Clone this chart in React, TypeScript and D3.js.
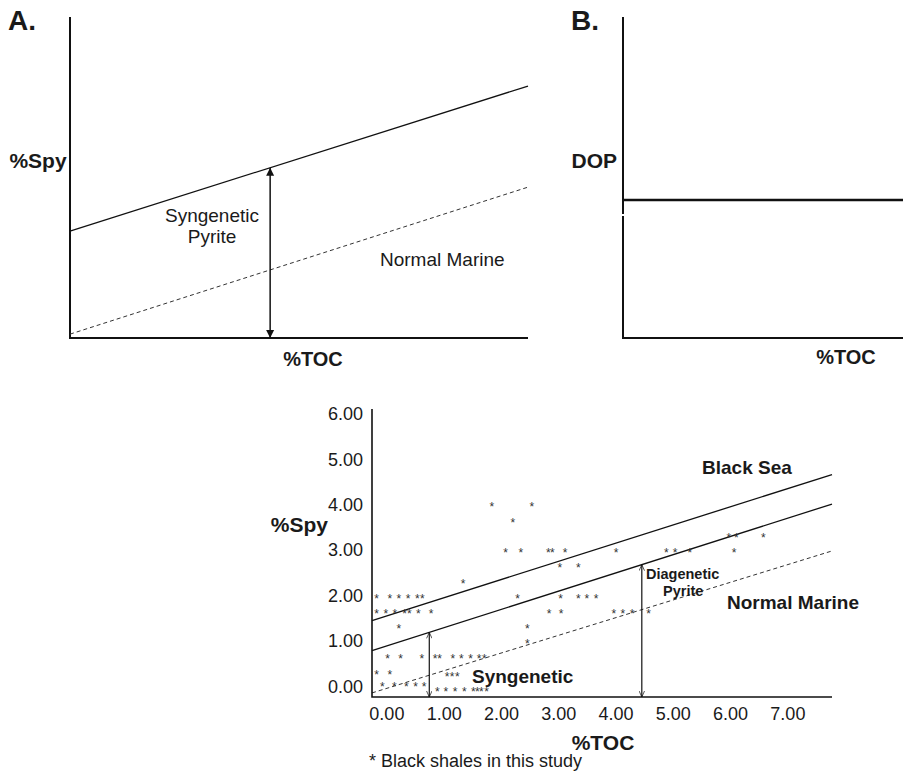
import React, { useRef, useEffect } from "react";
import * as d3 from "d3";

const FONT = "'Liberation Sans', Arial, Helvetica, sans-serif";

// black shales in this study (bottom panel), %TOC and %Spy read per point
const shaleToc = [
  -0.18, 0.05, 0.21, 0.37, 0.53, 0.62, 2.28, 3.03, 3.34, 3.49, 3.65,
  -0.18, -0.02, 0.14, 0.31, 0.39, 0.55, 0.77, 2.83, 3.04, 3.96, 4.12, 4.28, 4.57,
  0.21, 1.33, 1.83, 2.53, 2.2, 2.45, 2.45,
  2.07, 2.34, 2.82, 2.89, 3.11, 4.0, 4.88, 5.03, 5.29, 6.06,
  3.02, 3.34, 5.97, 6.1, 6.57,
  0.01, 0.24, 0.61, 0.84, 0.92, 1.15, 1.3, 1.46, 1.61, 1.7,
  -0.18, 0.05, 1.05, 1.14, 1.23,
  -0.08, 0.13, 0.34, 0.5, 0.65,
  0.88, 1.03, 1.19, 1.35, 1.51, 1.58, 1.65, 1.74,
];
const shaleSpy = [
  2.02, 2.02, 2.02, 2.02, 2.02, 2.02, 2.02, 2.02, 2.02, 2.02, 2.02,
  1.69, 1.69, 1.69, 1.69, 1.69, 1.69, 1.69, 1.69, 1.69, 1.69, 1.69, 1.69, 1.69,
  1.35, 2.34, 4.04, 4.04, 3.69, 1.35, 1.02,
  3.03, 3.03, 3.03, 3.03, 3.03, 3.03, 3.03, 3.03, 3.03, 3.03,
  2.7, 2.7, 3.36, 3.36, 3.36,
  0.69, 0.69, 0.69, 0.69, 0.69, 0.69, 0.69, 0.69, 0.69, 0.69,
  0.35, 0.35, 0.3, 0.3, 0.3,
  0.08, 0.08, 0.08, 0.08, 0.08,
  -0.03, -0.03, -0.03, -0.03, -0.03, -0.03, -0.03, -0.03,
];

const tocTicks = [0, 1, 2, 3, 4, 5, 6, 7];
const spyTicks = [0, 1, 2, 3, 4, 5, 6];

// trend lines: %Spy at the two ends of the %TOC axis
const tocEnds = [-0.26, 7.77];
const blackSeaSpy = [1.46, 4.67];
const euxinicSpy = [0.8, 4.02];
const normalMarineSpy = [-0.13, 2.99];
const syngeneticArrowToc = 0.74;
const diageneticArrowToc = 4.45;

// schematic panels A and B, relative units 0..1
const schemEnds = [0, 1];
const schemSyngenetic = [0.333, 0.785];
const schemNormal = [0.012, 0.47];
const schemArrowX = 0.437;
const dopLevel = 0.43;

const App = () => {
  const svgRef = useRef<SVGSVGElement | null>(null);

  useEffect(() => {
    const svg = d3.select(svgRef.current);
    svg.selectAll("*").remove();

    const defs = svg.append("defs");
    defs
      .append("marker")
      .attr("id", "solidHead")
      .attr("viewBox", "0 0 10 10")
      .attr("refX", 10)
      .attr("refY", 5)
      .attr("markerWidth", 8)
      .attr("markerHeight", 12)
      .attr("markerUnits", "userSpaceOnUse")
      .attr("orient", "auto-start-reverse")
      .append("path")
      .attr("d", "M0,0L10,5L0,10Z")
      .attr("fill", "#111");
    defs
      .append("marker")
      .attr("id", "openHead")
      .attr("viewBox", "0 0 10 10")
      .attr("refX", 10)
      .attr("refY", 5)
      .attr("markerWidth", 9)
      .attr("markerHeight", 6)
      .attr("markerUnits", "userSpaceOnUse")
      .attr("orient", "auto-start-reverse")
      .append("path")
      .attr("d", "M0,0.5L10,5L0,9.5")
      .attr("fill", "none")
      .attr("stroke", "#111")
      .attr("stroke-width", 1.2);

    const text = (
      g: any,
      x: number,
      y: number,
      s: string,
      size: number,
      weight = "normal",
      anchor = "start"
    ) =>
      g
        .append("text")
        .attr("x", x)
        .attr("y", y)
        .attr("dominant-baseline", "central")
        .attr("text-anchor", anchor)
        .attr("font-family", FONT)
        .attr("font-size", size)
        .attr("font-weight", weight)
        .attr("fill", "#1a1a1a")
        .text(s);

    // ---------- Panel A ----------
    const ax = d3.scaleLinear().domain([0, 1]).range([70, 528]);
    const ay = d3.scaleLinear().domain([0, 1]).range([338, 17]);
    const gA = svg.append("g");
    gA.append("path")
      .attr("d", `M${ax(0)},${ay(1)}V${ay(0)}H${ax(1)}`)
      .attr("fill", "none")
      .attr("stroke", "#111")
      .attr("stroke-width", 2);
    const aLine = (vals: number[]) =>
      d3.line<number>()
        .x((_, i) => ax(schemEnds[i]))
        .y((d) => ay(d))(vals);
    gA.append("path")
      .attr("d", aLine(schemSyngenetic))
      .attr("fill", "none")
      .attr("stroke", "#111")
      .attr("stroke-width", 1.3);
    gA.append("path")
      .attr("d", aLine(schemNormal))
      .attr("fill", "none")
      .attr("stroke", "#333")
      .attr("stroke-width", 1)
      .attr("stroke-dasharray", "4,3");
    const arrowTop =
      schemSyngenetic[0] + (schemSyngenetic[1] - schemSyngenetic[0]) * schemArrowX;
    gA.append("line")
      .attr("x1", ax(schemArrowX))
      .attr("x2", ax(schemArrowX))
      .attr("y1", ay(arrowTop))
      .attr("y2", ay(0))
      .attr("stroke", "#111")
      .attr("stroke-width", 1.5)
      .attr("marker-start", "url(#solidHead)")
      .attr("marker-end", "url(#solidHead)");
    text(gA, 22, 20, "A.", 28, "bold", "middle");
    text(gA, 38, 160, "%Spy", 21, "bold", "middle");
    text(gA, 313, 359, "%TOC", 20, "bold", "middle");
    text(gA, 212, 215, "Syngenetic", 19, "normal", "middle");
    text(gA, 212, 236, "Pyrite", 19, "normal", "middle");
    text(gA, 380, 259, "Normal Marine", 19);

    // ---------- Panel B ----------
    const bx = d3.scaleLinear().domain([0, 1]).range([623, 903]);
    const by = d3.scaleLinear().domain([0, 1]).range([338, 17]);
    const gB = svg.append("g");
    gB.append("path")
      .attr("d", `M${bx(0)},${by(1)}V${by(0)}H${bx(1)}`)
      .attr("fill", "none")
      .attr("stroke", "#111")
      .attr("stroke-width", 2);
    gB.append("rect")
      .attr("x", bx(0) - 2)
      .attr("y", 214)
      .attr("width", 4)
      .attr("height", 2)
      .attr("fill", "#fff");
    gB.append("line")
      .attr("x1", bx(0))
      .attr("x2", bx(1))
      .attr("y1", by(dopLevel))
      .attr("y2", by(dopLevel))
      .attr("stroke", "#111")
      .attr("stroke-width", 2.4);
    text(gB, 585, 20, "B.", 28, "bold", "middle");
    text(gB, 617, 160, "DOP", 21, "bold", "end");
    text(gB, 846, 357, "%TOC", 20, "bold", "middle");

    // ---------- Bottom panel ----------
    const x = d3.scaleLinear().domain([-0.26, 7.77]).range([372, 832]);
    const y = d3.scaleLinear().domain([-0.22, 6.11]).range([697, 409]);
    const g = svg.append("g");

    const tl = (vals: number[]) =>
      d3.line<number>()
        .x((_, i) => x(tocEnds[i]))
        .y((d) => y(d))(vals);
    g.append("path")
      .attr("d", tl(blackSeaSpy))
      .attr("fill", "none")
      .attr("stroke", "#111")
      .attr("stroke-width", 1.3);
    g.append("path")
      .attr("d", tl(euxinicSpy))
      .attr("fill", "none")
      .attr("stroke", "#111")
      .attr("stroke-width", 1.3);
    g.append("path")
      .attr("d", tl(normalMarineSpy))
      .attr("fill", "none")
      .attr("stroke", "#333")
      .attr("stroke-width", 1)
      .attr("stroke-dasharray", "4,3");

    const spyAt = (toc: number) =>
      euxinicSpy[0] +
      ((euxinicSpy[1] - euxinicSpy[0]) * (toc - tocEnds[0])) / (tocEnds[1] - tocEnds[0]);
    [syngeneticArrowToc, diageneticArrowToc].forEach((t) => {
      g.append("line")
        .attr("x1", x(t))
        .attr("x2", x(t))
        .attr("y1", y(spyAt(t)))
        .attr("y2", y(-0.22))
        .attr("stroke", "#111")
        .attr("stroke-width", 1.2)
        .attr("marker-start", "url(#openHead)")
        .attr("marker-end", "url(#openHead)");
    });

    // axes
    g.append("path")
      .attr("d", `M${x(-0.26)},${y(6.11)}V${y(-0.22)}H${x(7.77)}`)
      .attr("fill", "none")
      .attr("stroke", "#111")
      .attr("stroke-width", 1.6);
    spyTicks.forEach((t) =>
      text(g, 363, y(t), d3.format(".2f")(t), 18, "normal", "end")
    );
    tocTicks.forEach((t) =>
      text(g, x(t), 714, d3.format(".2f")(t), 18, "normal", "middle")
    );

    // samples
    g.selectAll(".pt")
      .data(shaleToc)
      .enter()
      .append("text")
      .attr("class", "pt")
      .attr("x", (d) => x(d))
      .attr("y", (_, i) => y(shaleSpy[i]))
      .attr("dy", "0.62em")
      .attr("text-anchor", "middle")
      .attr("font-family", FONT)
      .attr("font-size", 12)
      .attr("fill", "#333")
      .text("*");

    text(g, 328, 524, "%Spy", 21, "bold", "end");
    text(g, 603, 742, "%TOC", 21, "bold", "middle");
    text(g, 369, 761, "* Black shales in this study", 18);
    text(g, 702, 467, "Black Sea", 19, "bold");
    text(g, 727, 602, "Normal Marine", 19, "bold");
    text(g, 646, 574, "Diagenetic", 14.5, "bold");
    text(g, 663, 591, "Pyrite", 14.5, "bold");
    text(g, 472, 676, "Syngenetic", 19, "bold");
  }, []);

  return (
    <div style={{ position: "absolute", left: 0, top: 0 }}>
      <svg
        ref={svgRef}
        width={903}
        height={771}
        style={{ display: "block", background: "#fff" }}
      ></svg>
    </div>
  );
};

export default App;
